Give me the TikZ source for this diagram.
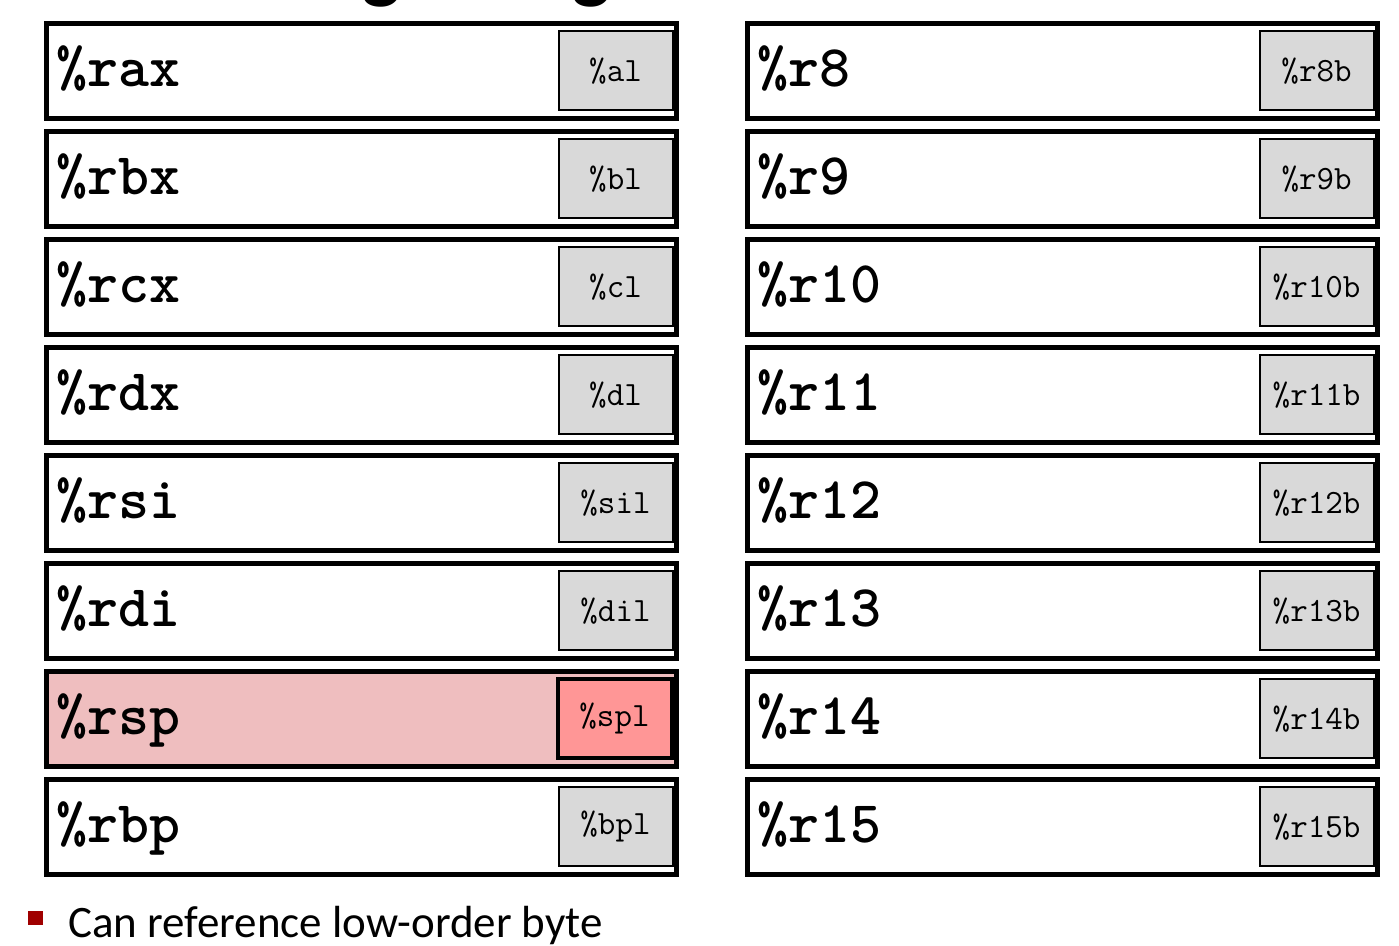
\documentclass[tikz,border=0pt]{standalone}
\usepackage{fontspec}
\setmainfont{Carlito}
\usetikzlibrary{positioning}
\definecolor{lowgray}{RGB}{217,217,217}
\definecolor{stackpink}{RGB}{239,190,191}
\definecolor{stackred}{RGB}{255,150,150}
\definecolor{bulletred}{RGB}{160,0,0}
\begin{document}
\begin{tikzpicture}[
          x = 1pt, y = -1pt,
          reg/.style = {draw, line width = 5pt, anchor = north west,
            minimum height = 94.5pt, text width = 609.5pt, inner xsep = 10pt,
            inner ysep = 0pt, align = left, text height = 32pt, text depth = 0pt,
            font = \fontsize{59}{59}\selectfont\ttfamily\bfseries},
          low/.style = {draw, line width = 2pt, fill = lowgray, anchor = east,
            minimum width = 114pt, minimum height = 79pt, inner sep = 0pt,
            font = \fontsize{34}{34}\selectfont\ttfamily},
          cold reg/.style = {},
          cold low/.style = {},
          hot reg/.style = {fill = stackpink},
          hot low/.style = {fill = stackred, line width = 4pt},
        ]
          \useasboundingbox (0,0) rectangle (1399,945);
          % title, cut off by the top edge
          \node[anchor = base west, inner sep = 0pt, font = \fontsize{81}{81}\selectfont\bfseries]
            (title) at (362,-7) {\llap{x86-64 Inte}ger Registers};
          % left column
          \foreach \r/\l/\k [count = \i from 0] in {rax/al/cold, rbx/bl/cold, rcx/cl/cold,
              rdx/dl/cold, rsi/sil/cold, rdi/dil/cold, rsp/spl/hot, rbp/bpl/cold} {
            \node[reg, \k\space reg] (\r) at (44,21+108*\i) {\%\r};
            \node[low, \k\space low] (\l) at ([xshift = -5pt]\r.east) {\%\l};
          }
          % right column
          \foreach \n [count = \i from 0] in {8,...,15} {
            \node[reg] (r\n) at (745,21+108*\i) {\%r\n};
            \node[low] (r\n low) at ([xshift = -5pt]r\n.east) {\%r\n b};
          }
          % note
          \node[fill = bulletred, minimum width = 15pt, minimum height = 14pt, inner sep = 0pt]
            (dot) at (35.5,917.5) {};
          \node[anchor = base west, inner sep = 0pt, font = \fontsize{45}{45}\selectfont]
            (note) at (68,937) {Can reference low-order byte};
        \end{tikzpicture}
\end{document}
